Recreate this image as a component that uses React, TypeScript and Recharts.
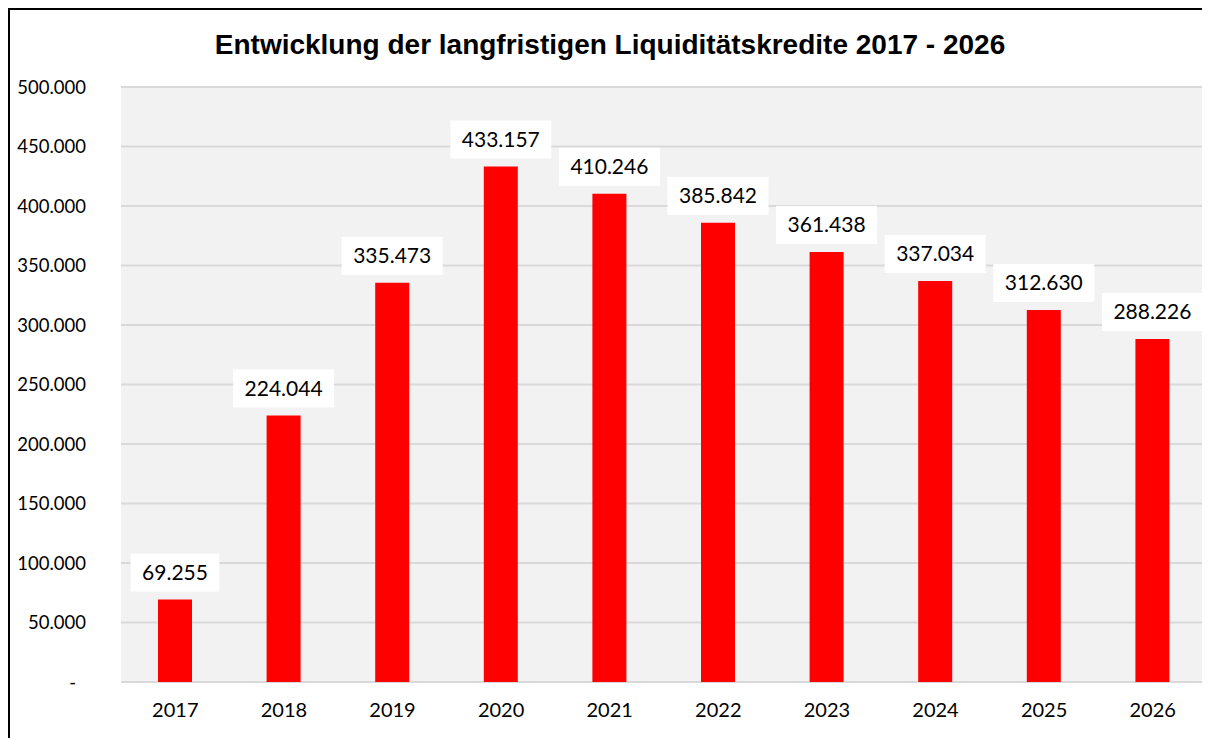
import React from 'react';
import { BarChart, Bar, XAxis, YAxis, CartesianGrid, LabelList } from 'recharts';

const categories = ['2017', '2018', '2019', '2020', '2021', '2022', '2023', '2024', '2025', '2026'];
const values = [69255, 224044, 335473, 433157, 410246, 385842, 361438, 337034, 312630, 288226];
const yTicks = [0, 50000, 100000, 150000, 200000, 250000, 300000, 350000, 400000, 450000, 500000];
const title = 'Entwicklung der langfristigen Liquiditätskredite 2017 - 2026';

const data = categories.map((c, i) => ({ year: c, value: values[i] }));

const fmt = (n: number) => String(n).replace(/\B(?=(\d{3})+(?!\d))/g, '.');

const FONT = 'Lato, "Noto Sans", sans-serif';

const YTick = (props: any) => {
  const { x, y, payload } = props;
  const v = payload.value as number;
  return (
    <text x={v === 0 ? x - 10 : x} y={y} dy="0.355em" textAnchor="end" fontSize={18.5} fontFamily={FONT} fill="#000">
      {v === 0 ? '-' : fmt(v)}
    </text>
  );
};

const XTick = (props: any) => {
  const { x, y, payload } = props;
  return (
    <text x={x} y={y} dy="0.71em" textAnchor="middle" fontSize={20} fontFamily={FONT} fill="#000">
      {payload.value}
    </text>
  );
};

const ValueLabel = (props: any) => {
  const { x, y, width, value } = props;
  const s = fmt(value as number);
  const digits = s.replace(/\./g, '').length;
  const dots = s.length - digits;
  const w = digits * 12.2 + dots * 4.8 + 23;
  const h = 38;
  const cx = x + width / 2;
  const top = y - 8 - h;
  return (
    <g>
      <rect x={cx - w / 2} y={top} width={w} height={h} fill="#ffffff" />
      <text x={cx} y={top + h / 2} dy="0.35em" textAnchor="middle" fontSize={21} fontFamily={FONT} fill="#000">
        {s}
      </text>
    </g>
  );
};

export default function App() {
  return (
    <div
      style={{
        position: 'relative',
        width: 1202,
        height: 730,
        background: '#fff',
      }}
    >
      <div
        style={{
          position: 'absolute',
          left: 0,
          top: 23,
          width: 1204,
          textAlign: 'center',
          fontFamily: '"Liberation Sans", Arial, sans-serif',
          fontWeight: 'bold',
          fontSize: 28,
          lineHeight: '28px',
          color: '#000',
        }}
      >
        {title}
      </div>
      <BarChart
        width={1200}
        height={730}
        data={data}
        margin={{ top: 79, right: 1, left: 0, bottom: 0 }}
      >
        <CartesianGrid vertical={false} stroke="#d9d9d9" strokeWidth={2} fill="#f2f2f2" />
        <XAxis
          dataKey="year"
          axisLine={false}
          tickLine={false}
          tickSize={0}
          tickMargin={21}
          height={56}
          interval={0}
          tick={<XTick />}
        />
        <YAxis
          domain={[0, 500000]}
          ticks={yTicks}
          interval={0}
          axisLine={false}
          tickLine={false}
          tickSize={0}
          tickMargin={35}
          width={113}
          tick={<YTick />}
        />
        <Bar dataKey="value" fill="#ff0000" barSize={34} isAnimationActive={false}>
          <LabelList dataKey="value" content={<ValueLabel />} />
        </Bar>
      </BarChart>
      <div style={{ position: 'absolute', left: 0, top: 0, width: 2, height: 730, background: '#000' }} />
      <div style={{ position: 'absolute', left: 0, top: 0, width: 1202, height: 2, background: '#000' }} />
    </div>
  );
}
